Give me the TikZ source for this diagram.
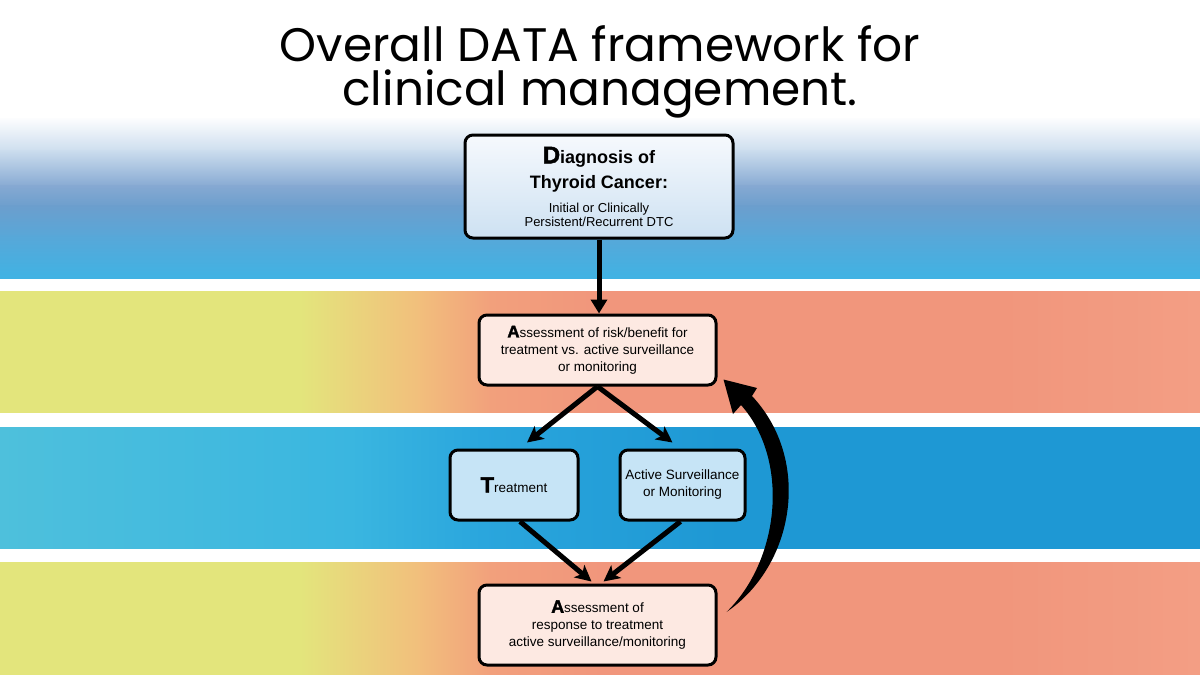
\documentclass[tikz,border=0pt]{standalone}
\usepackage{fontspec}
\setmainfont{Liberation Sans}
\newfontfamily\titlefont{Poppins}
\newfontfamily\blackfont{Liberation Sans}[FakeBold=2]
\usetikzlibrary{arrows.meta,calc}

\definecolor{tbA}{HTML}{FFFFFF}
\definecolor{tbB}{HTML}{CCDDEE}
\definecolor{tbC}{HTML}{86A9D2}
\definecolor{tbD}{HTML}{6C9ECD}
\definecolor{tbE}{HTML}{58A7D8}
\definecolor{tbF}{HTML}{3FB3E4}
\definecolor{obY}{HTML}{E3E57C}
\definecolor{obM}{HTML}{F2BE7C}
\definecolor{obO}{HTML}{F2A07C}
\definecolor{obS}{HTML}{F1967C}
\definecolor{obR}{HTML}{F39E84}
\definecolor{bbL}{HTML}{4EC0DC}
\definecolor{bbM}{HTML}{3AB6E0}
\definecolor{bbN}{HTML}{2AA6DD}
\definecolor{bbR}{HTML}{1E98D4}
\definecolor{pinkfill}{HTML}{FDE9E2}
\definecolor{bluefill}{HTML}{C6E4F6}
\definecolor{diagtop}{HTML}{F6F9FD}
\definecolor{diagbot}{HTML}{CDE1F2}

\newcommand{\initialltr}[2]{{\blackfont\bfseries\fontsize{#1}{8}\selectfont #2}}
\newcommand{\headfont}{\fontsize{9}{6.8}\selectfont\bfseries}
\newcommand{\diagfont}{\fontsize{6.5}{6.8}\selectfont\lineskiplimit=-100pt\relax}

\tikzset{
  box/.style={draw=black, line width=1.5pt, rounded corners=4pt, align=center,
    inner sep=0pt, font=\fontsize{6.75}{8.5}\selectfont},
  pinkbox/.style={box, fill=pinkfill, minimum width=118.5pt},
  bluebox/.style={box, fill=bluefill, minimum height=35pt},
  arr/.style={line width=2.5pt, -{Stealth[length=8pt,width=8pt,inset=2pt]}},
  varr/.style={line width=2.5pt, -{Triangle[length=7pt,width=8pt]}},
  titletext/.style={font=\titlefont\fontsize{23.5}{28}\selectfont, anchor=base, inner sep=0pt}
}

\begin{document}
\begin{tikzpicture}[x=0.5pt,y=-0.5pt]
\useasboundingbox (0,0) rectangle (1200,675);
\fill[white] (0,0) rectangle (1200,675);

% top band (vertical gradient)
\begin{scope}
\clip (0,118) rectangle (1200,278);
\shade[top color=tbA, bottom color=tbB] (0,116) rectangle (1200,152);
\shade[top color=tbB, bottom color=tbC] (0,150) rectangle (1200,187);
\shade[top color=tbC, bottom color=tbD] (0,185) rectangle (1200,207);
\shade[top color=tbD, bottom color=tbE] (0,205) rectangle (1200,237);
\shade[top color=tbE, bottom color=tbF] (0,235) rectangle (1200,280);
\end{scope}

% orange bands
\foreach \ya/\yb in {291/412, 562/675}{
  \begin{scope}
  \clip (0,\ya) rectangle (1200,\yb);
  \fill[obY] (0,280) rectangle (302,680);
  \shade[left color=obY, right color=obM] (300,280) rectangle (422,680);
  \shade[left color=obM, right color=obO] (420,280) rectangle (492,680);
  \shade[left color=obO, right color=obS] (490,280) rectangle (602,680);
  \fill[obS] (600,280) rectangle (1002,680);
  \shade[left color=obS, right color=obR] (1000,280) rectangle (1200,680);
  \end{scope}
}

% blue band
\begin{scope}
\clip (0,427) rectangle (1200,548);
\shade[left color=bbL, right color=bbM] (0,420) rectangle (352,555);
\shade[left color=bbM, right color=bbN] (350,420) rectangle (482,555);
\shade[left color=bbN, right color=bbR] (480,420) rectangle (722,555);
\fill[bbR] (720,420) rectangle (1200,555);
\end{scope}

% title
\node[titletext] (title1) at (600,61) {Overall DATA framework for};
\node[titletext] (title2) at (600,105) {clinical management.};

% nodes
\node[box, top color=diagtop, bottom color=diagbot, minimum width=134pt, minimum height=51.5pt,
  font=\diagfont]
  (diag) at (599,186.5)
  {\headfont\initialltr{12}{D}iagnosis of\\[6pt]
   \headfont Thyroid Cancer:\\[5pt]
   Initial or Clinically\\
   Persistent/Recurrent DTC};

\node[pinkbox, minimum height=35pt] (risk) at (597.5,350)
  {\initialltr{8.5}{A}ssessment of risk/benefit for\\treatment vs. active surveillance\\or monitoring};

\node[bluebox, minimum width=64pt] (treat) at (514,485)
  {\initialltr{11}{T}reatment};

\node[bluebox, minimum width=62.5pt] (act) at (682.5,485)
  {Active Surveillance\\or Monitoring};

\node[pinkbox, minimum height=40pt] (resp) at (597.5,625)
  {\initialltr{9}{A}ssessment of\\response to treatment\\active surveillance/monitoring};

% connectors
\draw[varr] (diag.south) -- (diag.south |- risk.north);
\draw[arr] (risk.south) -- ([xshift=6.5pt,yshift=3pt]treat.north);
\draw[arr] (risk.south) -- ([xshift=-5pt,yshift=3pt]act.north);
\draw[arr] ([xshift=3pt]treat.south) -- ([xshift=-3pt,yshift=1pt]resp.north);
\draw[arr] ([xshift=-1pt]act.south) -- ([xshift=3pt,yshift=1pt]resp.north);

% curved return arrow (tapered)
\coordinate (cstart) at ($(resp.east)+(9,-13)$);
\coordinate (ctip) at ($(risk.south east)+(6,-7)$);
\fill[black] (cstart) .. controls (795,565) and (812,460) .. (752,396)
  -- (757,388) -- (ctip) -- (733,414) -- (741,405)
  .. controls (790,460) and (780,560) .. (cstart) -- cycle;
\end{tikzpicture}
\end{document}
